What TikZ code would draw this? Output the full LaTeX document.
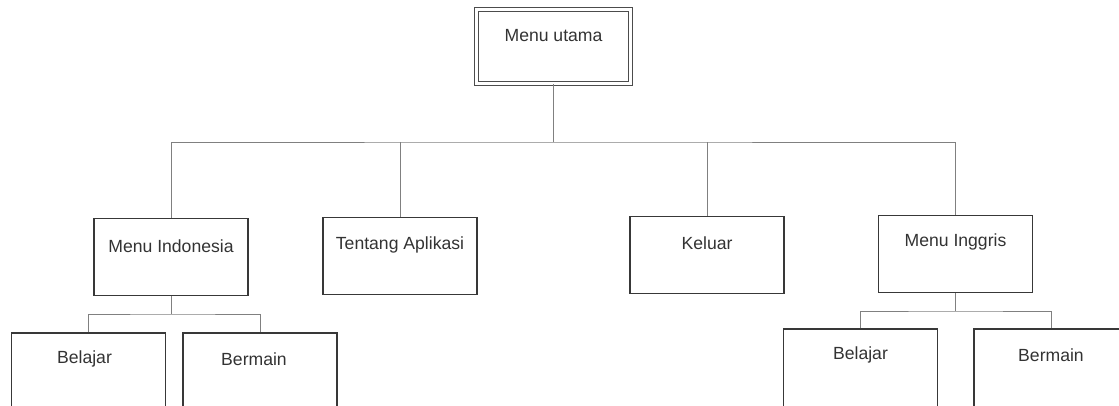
\documentclass[tikz,border=0pt]{standalone}
\usepackage{fontspec}
\setmainfont{Liberation Sans}
\begin{document}
\begin{tikzpicture}[x=1pt,y=-1pt,
  box/.style={draw=black!78,line width=1.3pt,minimum width=154pt,minimum height=77pt,inner sep=0pt,fill=white},
  tallbox/.style={box,minimum height=84pt},
  topbox/.style={draw=black!70,line width=1.1pt,double=white,double distance=2.2pt,minimum width=154pt,minimum height=74pt,inner sep=0pt},
  lbl/.style={text=black!80,font=\fontsize{17.6}{20}\selectfont,inner sep=0pt,anchor=center},
  conn/.style={draw=black!50,line width=0.9pt}]
\useasboundingbox (0,0) rectangle (1119,405);
\clip (0,0) rectangle (1119,405);
\fill[white] (0,0) rectangle (1119,405);
% boxes
\node[topbox] (top) at (553.5,46.5) {};
\node[box] (mi) at (171,257) {};
\node[box] (ta) at (400,256) {};
\node[box] (kl) at (707,255) {};
\node[box] (mg) at (955.5,254) {};
\node[tallbox] (bl) at (88.5,375) {};
\node[tallbox] (bml) at (260,375) {};
\node[tallbox] (br) at (860.5,371) {};
\node[tallbox] (bmr) at (1051,371) {};
% labels
\node[lbl] (topt) at ([yshift=-27pt]top.north) {Menu utama};
\node[lbl] (mit) at ([yshift=-28pt]mi.north) {Menu Indonesia};
\node[lbl] (tat) at ([yshift=-28pt]ta.north) {Tentang Aplikasi};
\node[lbl] (klt) at ([yshift=-27pt]kl.north) {Keluar};
\node[lbl] (mgt) at ([yshift=-27pt]mg.north) {Menu Inggris};
\node[lbl] (blt) at ([xshift=-4pt,yshift=-27pt]bl.north) {Belajar};
\node[lbl] (bmlt) at ([xshift=-6pt,yshift=-27pt]bml.north) {Bermain};
\node[lbl] (brt) at ([yshift=-27pt]br.north) {Belajar};
\node[lbl] (bmrt) at ([yshift=-27pt]bmr.north) {Bermain};
% connectors
\coordinate (bus) at (553.5,142);
\coordinate (busl) at (171,314);
\coordinate (busr) at (955.5,311);
\draw[conn] (top.south) -- (bus);
\draw[conn] (mi.north) |- (bus) -| (mg.north);
\draw[conn] (ta.north) -- (ta.north |- bus);
\draw[conn] (kl.north) -- (kl.north |- bus);
\draw[conn] (mi.south) -- (busl);
\draw[conn] (bl.north) |- (busl) -| (bml.north);
\draw[conn] (mg.south) -- (busr);
\draw[conn] (br.north) |- (busr) -| (bmr.north);
\end{tikzpicture}
\end{document}
